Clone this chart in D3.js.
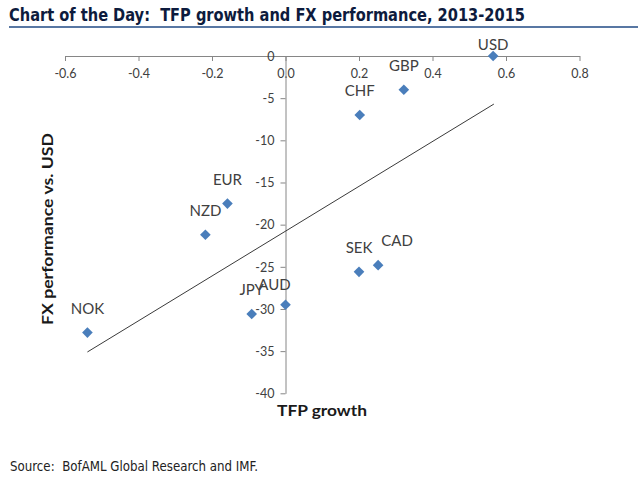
<!DOCTYPE html>
<html>
<head>
<meta charset="utf-8">
<script src="https://cdn.jsdelivr.net/npm/d3@7/dist/d3.min.js"></script>
<style>
  html, body { margin: 0; padding: 0; background: #fff; }
  svg { display: block; }
  text { white-space: pre; }
</style>
</head>
<body>
<svg id="chart" width="638" height="480"></svg>
<script>
// ---- data ----
const currencies = ["USD", "GBP", "CHF", "SEK", "CAD", "EUR", "NZD", "JPY", "AUD", "NOK"];
const tfpGrowth  = [0.565, 0.322, 0.202, 0.200, 0.252, -0.158, -0.218, -0.092, 0.000, -0.539];
const fxPerf     = [0.0, -4.0, -7.0, -25.6, -24.8, -17.5, -21.2, -30.6, -29.5, -32.8];
const trendX     = [-0.539, 0.567];
const trendY     = [-35.1, -5.7];
const xTicks     = [-0.6, -0.4, -0.2, 0.0, 0.2, 0.4, 0.6, 0.8];
const yTicks     = [0, -5, -10, -15, -20, -25, -30, -35, -40];
const titleText  = "Chart of the Day:  TFP growth and FX performance, 2013-2015";
const sourceText = "Source:  BofAML Global Research and IMF.";
const xTitle     = "TFP growth";
const yTitle     = "FX performance vs. USD";

// ---- layout ----
const svg = d3.select("#chart");
const x = d3.scaleLinear().domain([-0.6, 0.8]).range([65, 579.5]);
const y = d3.scaleLinear().domain([-40, 0]).range([393.3, 56]);
const axisColor = "#868686";
const labelNudge = { CAD: [19, 0], AUD: [-11, 4] };

// title
svg.append("text")
  .attr("x", 9).attr("y", 20.5)
  .attr("font-family", "'Liberation Sans Narrow', 'DejaVu Sans Condensed', sans-serif")
  .attr("font-weight", "bold").attr("font-size", 18.5)
  .attr("fill", "#0d1b3d")
  .attr("textLength", 516).attr("lengthAdjust", "spacingAndGlyphs")
  .text(titleText);
svg.append("line")
  .attr("x1", 9).attr("x2", 638).attr("y1", 27).attr("y2", 27)
  .attr("stroke", "#5877a3").attr("stroke-width", 2);

// x axis (at y=0)
const xAxis = d3.axisBottom(x).tickValues(xTicks).tickSize(5).tickSizeOuter(0)
  .tickFormat(d3.format(".1f"));
const gx = svg.append("g").attr("transform", `translate(0,${y(0)})`).call(xAxis);
gx.select(".domain").attr("stroke", axisColor);
gx.selectAll(".tick line").attr("stroke", axisColor);
gx.selectAll(".tick text")
  .attr("y", 12).attr("dy", 0)
  .attr("dominant-baseline", "hanging")
  .attr("font-family", "Lato, 'Open Sans', sans-serif").attr("font-size", 12.5)
  .attr("fill", "#404040")
  .text(d => d3.format(".1f")(d).replace("−", "-"));

// y axis (at x=0)
const yAxis = d3.axisLeft(y).tickValues(yTicks).tickSize(5).tickSizeOuter(0)
  .tickFormat(d => String(d));
const gy = svg.append("g").attr("transform", `translate(${x(0)},0)`).call(yAxis);
gy.select(".domain").attr("stroke", axisColor);
gy.selectAll(".tick line").attr("stroke", axisColor);
gy.selectAll(".tick text")
  .attr("x", -11).attr("dy", "0.34em")
  .attr("font-family", "Lato, 'Open Sans', sans-serif").attr("font-size", 12.5)
  .attr("fill", "#404040")
  .text(d => String(d).replace("−", "-"));
svg.selectAll("g").attr("font-family", null);

// trend line
svg.append("line")
  .attr("x1", x(trendX[0])).attr("y1", y(trendY[0]))
  .attr("x2", x(trendX[1])).attr("y2", y(trendY[1]))
  .attr("stroke", "#3a3a3a").attr("stroke-width", 1);

// points
const pts = currencies.map((c, i) => ({ c, tx: tfpGrowth[i], fy: fxPerf[i] }));
const sym = d3.symbol().type(d3.symbolDiamond2).size(72);
svg.append("g").selectAll("path").data(pts).join("path")
  .attr("d", sym)
  .attr("transform", d => `translate(${x(d.tx)},${y(d.fy)})`)
  .attr("fill", "#4a7ebb");

// labels
svg.append("g").selectAll("text").data(pts).join("text")
  .attr("x", d => x(d.tx) + (labelNudge[d.c] ? labelNudge[d.c][0] : 0))
  .attr("y", d => Math.max(y(d.fy) - 19, 50) + (labelNudge[d.c] ? labelNudge[d.c][1] : 0))
  .attr("text-anchor", "middle")
  .attr("font-family", "Lato, 'Open Sans', sans-serif").attr("font-size", 15)
  .attr("fill", "#404040")
  .text(d => d.c);

// axis titles
svg.append("text")
  .attr("x", 322).attr("y", 415.5)
  .attr("text-anchor", "middle")
  .attr("font-family", "Lato, 'Open Sans', sans-serif").attr("font-weight", "bold")
  .attr("font-size", 15).attr("fill", "#1a1a1a")
  .attr("textLength", 90).attr("lengthAdjust", "spacingAndGlyphs")
  .text(xTitle);
svg.append("text")
  .attr("transform", "translate(53,229) rotate(-90)")
  .attr("text-anchor", "middle")
  .attr("font-family", "Lato, 'Open Sans', sans-serif").attr("font-weight", "bold")
  .attr("font-size", 15).attr("fill", "#1a1a1a")
  .attr("textLength", 192).attr("lengthAdjust", "spacingAndGlyphs")
  .text(yTitle);

// source
svg.append("text")
  .attr("x", 10).attr("y", 470.5)
  .attr("font-family", "'Liberation Sans Narrow', 'DejaVu Sans Condensed', sans-serif")
  .attr("font-size", 14.5).attr("fill", "#222")
  .attr("textLength", 248).attr("lengthAdjust", "spacingAndGlyphs")
  .text(sourceText);
</script>
</body>
</html>
